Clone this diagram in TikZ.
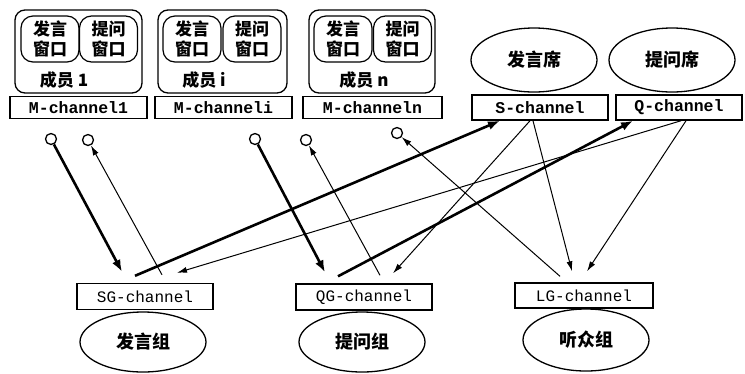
\documentclass[tikz,border=0pt]{standalone}
\usepackage{fontspec}
\setmonofont{Liberation Mono}
\newfontfamily\cjk{Noto Sans CJK SC}
\usetikzlibrary{arrows.meta,shapes.geometric,calc}
\begin{document}
\begin{tikzpicture}[x=1pt,y=-1pt,
  member/.style={draw, line width=1.3pt, rounded corners=10pt, minimum width=#1, minimum height=83pt, inner sep=0pt},
  win/.style={draw, line width=1.2pt, rounded corners=12pt, minimum width=58pt, minimum height=46pt, align=center, inner sep=0pt, font=\cjk\bfseries\fontsize{17}{20}\selectfont},
  mlabel/.style={font=\cjk\bfseries\fontsize{17}{17}\selectfont, inner sep=0pt},
  chan/.style={draw, line width=1.5pt, minimum width=#1, minimum height=22pt, inner sep=0pt, font=\ttfamily\bfseries\fontsize{16.5}{16.5}\selectfont},
  gchan/.style={draw, line width=1.4pt, minimum width=#1, minimum height=26pt, inner sep=0pt, font=\ttfamily\fontsize{16}{16}\selectfont},
  seat/.style={draw, line width=1.3pt, ellipse, minimum width=126pt, minimum height=64pt, inner sep=0pt, font=\cjk\bfseries\fontsize{18}{18}\selectfont},
  port/.style={draw, line width=1.3pt, circle, minimum size=11pt, inner sep=0pt},
  heavy/.style={line width=2.6pt, -{Latex[length=12pt,width=9pt]}},
  light/.style={line width=1pt, -{Latex[length=10pt,width=6pt]}}
]
\useasboundingbox (0,0) rectangle (745,373);

% members
\node[member=127pt] (m1) at (78.5,51.5) {};
\node[win] (m1a) at (50,39) {发言\\窗口};
\node[win] (m1b) at (108.5,39) {提问\\窗口};
\node[mlabel] (m1l) at (64,80) {成员 1};
\node[chan=137pt] (mc1) at (78.5,107.5) {M-channel1};

\node[member=129pt] (mi) at (222.5,51.5) {};
\node[win] (mia) at (192,39) {发言\\窗口};
\node[win] (mib) at (252,39) {提问\\窗口};
\node[mlabel] (mil) at (204,80) {成员 i};
\node[chan=137pt] (mci) at (223.5,107.5) {M-channeli};

\node[member=126pt] (mn) at (372,51.5) {};
\node[win] (mna) at (343,39) {发言\\窗口};
\node[win] (mnb) at (402.5,39) {提问\\窗口};
\node[mlabel] (mnl) at (364,80) {成员 n};
\node[chan=139pt] (mcn) at (372.5,107.5) {M-channeln};

% seats
\node[seat] (fs) at (534,60) {发言席};
\node[chan=136pt, minimum height=25pt] (sc) at (540,107.5) {S-channel};
\node[seat] (ts) at (672,60) {提问席};
\node[chan=126pt, minimum height=25pt] (qc) at (679,107.5) {Q-channel};

% ports
\node[port] (c1) at (51,139) {};
\node[port] (c2) at (88,140) {};
\node[port] (c3) at (255,139) {};
\node[port] (c4) at (306,140) {};
\node[port] (c5) at (397,133) {};

% groups
\node[gchan=136pt] (sg) at (145,296.5) {SG-channel};
\node[seat, minimum height=60pt] (fz) at (143,342) {发言组};
\node[gchan=136pt] (qg) at (364,297) {QG-channel};
\node[seat, minimum height=60pt] (tz) at (362,342) {提问组};
\node[gchan=138pt, minimum height=25pt] (lg) at (584,295.5) {LG-channel};
\node[seat, minimum height=62pt] (lz) at (586,340) {听众组};

% heavy connectors
\draw[heavy] (c1) -- ($(sg.north)+(-23,-11)$);
\draw[heavy] ($(sg.north)+(-10,-7)$) -- ($(sc.south)+(-40,0)$);
\draw[heavy] (c3) -- ($(qg.north)+(-39,-11)$);
\draw[heavy] ($(qg.north)+(-26,-7)$) -- ($(qc.south)+(-46,0)$);

% light connectors
\draw[light] ($(sg.north)+(17,-8)$) -- (c2);
\draw[light] ($(qc.south)+(2,0)$) -- ($(sg.north)+(32,-10)$);
\draw[light] ($(qg.north)+(16,-8)$) -- (c4);
\draw[light] ($(sc.south)+(-10,0)$) -- ($(qg.north)+(29,-10)$);
\draw[light] ($(lg.north)+(-24,-6)$) -- (c5);
\draw[light] ($(sc.south)+(-7,0)$) -- ($(lg.north)+(-12,-11)$);
\draw[light] ($(qc.south)+(7,0)$) -- ($(lg.north)+(3,-11)$);
\end{tikzpicture}
\end{document}
